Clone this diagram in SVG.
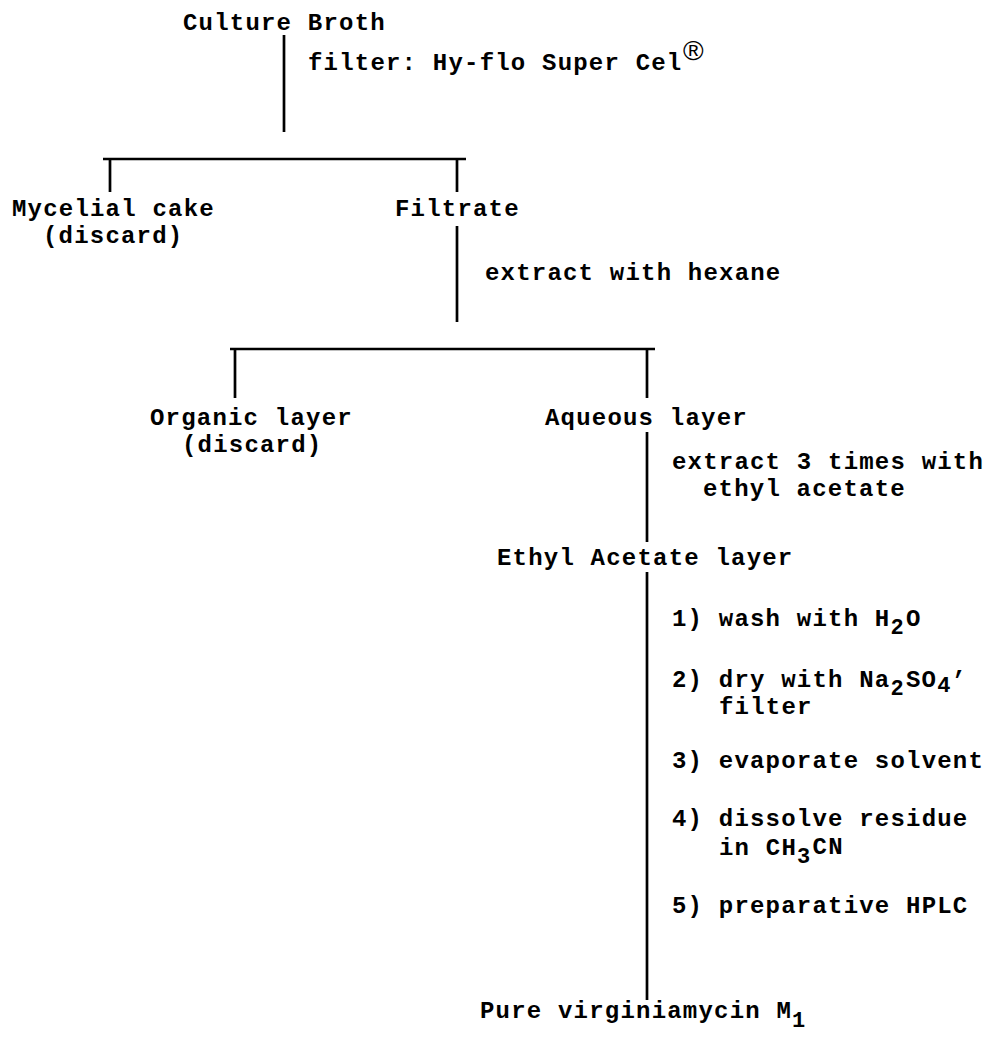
<svg xmlns="http://www.w3.org/2000/svg" width="996" height="1048" viewBox="0 0 996 1048">
<style>
text{font-family:"Liberation Mono","Courier New",monospace;font-weight:bold;font-size:24px;letter-spacing:1.2px;fill:#000}
.ln{stroke:#000;stroke-width:2.7;fill:none}
.s{font-size:22px}
.reg{font-family:"Liberation Sans",Arial,sans-serif;font-weight:normal;font-size:28px;letter-spacing:0}
</style>
<rect width="996" height="1048" fill="#fff"/>
<g id="connectors">
<path class="ln" d="M284 35V132"/>
<path class="ln" d="M103 159H466M110 159V192M457 159V192"/>
<path class="ln" d="M457 226V322"/>
<path class="ln" d="M230 349H655M235 349V398M647 349V398"/>
<path class="ln" d="M647 432V542"/>
<path class="ln" d="M647 572V1000"/>
</g>
<g id="culture-broth"><text x="183" y="30">Culture Broth</text></g>
<g id="step-filter"><text x="308" y="70">filter: Hy-flo Super Cel</text><text class="reg" x="683" y="60">®</text></g>
<g id="mycelial-cake"><text x="12" y="216">Mycelial cake</text><text x="43" y="243">(discard)</text></g>
<g id="filtrate"><text x="395" y="216">Filtrate</text></g>
<g id="step-hexane"><text x="485" y="280">extract with hexane</text></g>
<g id="organic-layer"><text x="150" y="425">Organic layer</text><text x="182" y="452">(discard)</text></g>
<g id="aqueous-layer"><text x="545" y="425">Aqueous layer</text></g>
<g id="step-ethyl-acetate"><text x="672" y="469">extract 3 times with</text><text x="703" y="496">ethyl acetate</text></g>
<g id="ethyl-acetate-layer"><text x="497" y="565">Ethyl Acetate layer</text></g>
<g id="steps">
<text x="672" y="626">1) wash with H</text><text class="s" x="890.4" y="634">2</text><text x="906" y="626">O</text>
<text x="672" y="687">2) dry with Na</text><text class="s" x="890.4" y="695">2</text><text x="906" y="687">SO</text><text class="s" x="937.2" y="692">4</text><text x="952.8" y="674">,</text>
<text x="719" y="714">filter</text>
<text x="672" y="826">4) dissolve residue</text>
<text x="672" y="768">3) evaporate solvent</text>
<text x="719" y="855">in CH</text><text class="s" x="797" y="863">3</text><text x="812.6" y="854">CN</text>
<text x="672" y="913">5) preparative HPLC</text>
</g>
<g id="pure-virginiamycin"><text x="480" y="1018">Pure virginiamycin M</text><text class="s" x="792" y="1027">1</text></g>
</svg>
